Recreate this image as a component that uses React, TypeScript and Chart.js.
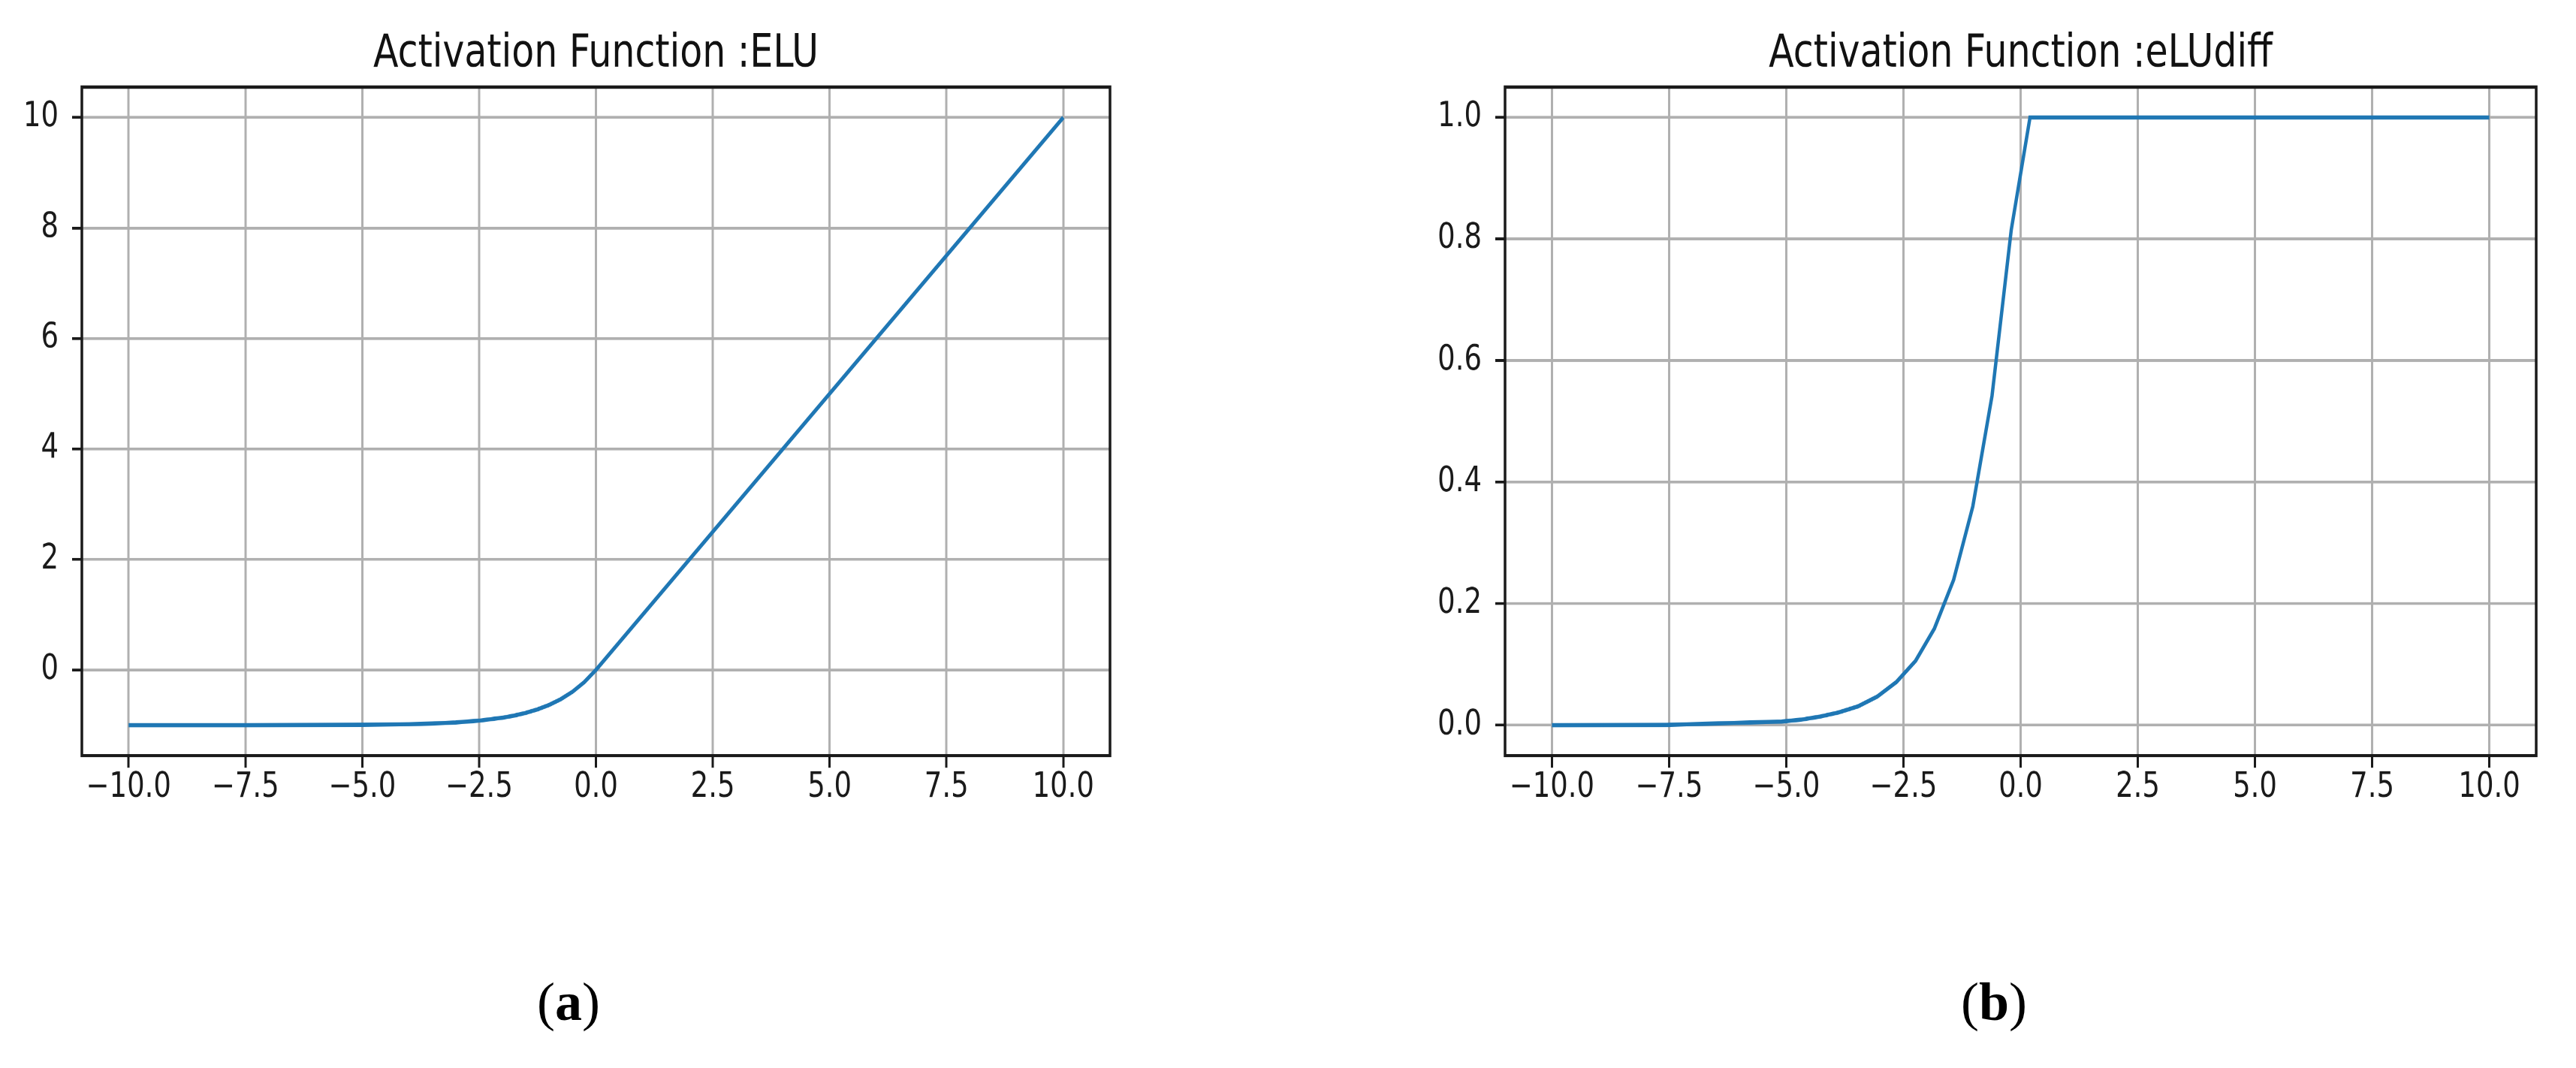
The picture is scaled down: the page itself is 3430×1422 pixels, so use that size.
import React, { useEffect, useRef } from 'react';
import Chart from 'chart.js/auto';

// ---------- data ----------
const X_TICKS = [-10, -7.5, -5, -2.5, 0, 2.5, 5, 7.5, 10];
const X_TICK_LABELS = ['−10.0', '−7.5', '−5.0', '−2.5', '0.0', '2.5', '5.0', '7.5', '10.0'];

const ELU_X = [-10, -7.5, -5, -4, -3.5, -3, -2.5, -2, -1.75, -1.5, -1.25, -1, -0.75, -0.5, -0.25, 0, 10];
const ELU_Y = [-1.0, -0.999, -0.993, -0.982, -0.97, -0.95, -0.918, -0.865, -0.826, -0.777, -0.713, -0.632, -0.528, -0.394, -0.221, 0, 10];
const ELU_Y_TICKS = [0, 2, 4, 6, 8, 10];
const ELU_Y_TICK_LABELS = ['0', '2', '4', '6', '8', '10'];

const DIFF_X = [-10, -7.55, -5.1, -4.69, -4.29, -3.88, -3.47, -3.06, -2.65, -2.24, -1.84, -1.43, -1.02, -0.61, -0.2, 0.2, 10];
const DIFF_Y = [0.0, 0.0005, 0.006, 0.009, 0.014, 0.021, 0.031, 0.047, 0.071, 0.106, 0.159, 0.239, 0.36, 0.542, 0.815, 1.0, 1.0];
const DIFF_Y_TICKS = [0, 0.2, 0.4, 0.6, 0.8, 1.0];
const DIFF_Y_TICK_LABELS = ['0.0', '0.2', '0.4', '0.6', '0.8', '1.0'];

const TITLES = ['Activation Function :ELU', 'Activation Function :eLUdiff'];
const CAPTIONS = ['a', 'b'];

// ---------- styling ----------
const FONT = "'DejaVu Sans', sans-serif";
const CANVAS_W = 1715;
const LOGICAL_H = 1000;
const PAGE_H = 1240;
const TITLE_SIZE = 49;

const framePlugin = {
  id: 'frame',
  afterDraw(chart: any) {
    const { ctx, chartArea: a } = chart;
    ctx.save();
    ctx.strokeStyle = '#1a1a1a';
    ctx.lineWidth = 3.5;
    ctx.strokeRect(a.left, a.top, a.right - a.left, a.bottom - a.top);
    ctx.restore();
  },
};

function makeConfig(
  xs: number[], ys: number[], yMin: number, yMax: number,
  yTicks: number[], yTickLabels: string[], title: string,
  yAxisWidth: number, padRight: number
): any {
  const tickFont = { family: FONT, size: 37, lineHeight: 1 };
  const grid = { color: '#b0b0b0', lineWidth: 3, drawTicks: true, tickLength: 13, tickColor: '#1a1a1a', tickWidth: 3 };
  const lh = TITLE_SIZE * 1.2;
  const padTop = 59 - lh / 2;
  const padBottom = 93.5 - padTop - lh;
  return {
    type: 'scatter',
    data: {
      datasets: [{
        data: xs.map((x, i) => ({ x, y: ys[i] })),
        showLine: true,
        borderColor: '#1f77b4',
        borderWidth: 4.5,
        pointRadius: 0,
        pointHoverRadius: 0,
        fill: false,
        tension: 0,
      }],
    },
    options: {
      animation: false,
      responsive: false,
      devicePixelRatio: 2,
      events: [],
      layout: { padding: { left: 0, right: padRight, top: 0, bottom: 0 } },
      plugins: {
        legend: { display: false },
        tooltip: { enabled: false },
        title: {
          display: true,
          text: title,
          fullSize: false,
          color: '#111',
          font: { family: FONT, size: TITLE_SIZE, weight: 'normal', lineHeight: 1.2 },
          padding: { top: padTop, bottom: padBottom },
        },
      },
      scales: {
        x: {
          type: 'linear',
          min: -11,
          max: 11,
          afterBuildTicks: (s: any) => { s.ticks = X_TICKS.map((v) => ({ value: v })); },
          afterFit: (s: any) => { s.height = LOGICAL_H - 811.3; },
          ticks: {
            callback: (_v: any, i: number) => X_TICK_LABELS[i],
            font: tickFont, color: '#1a1a1a', padding: 3, maxRotation: 0, minRotation: 0, autoSkip: false,
          },
          grid,
          border: { display: false },
        },
        y: {
          type: 'linear',
          min: yMin,
          max: yMax,
          afterBuildTicks: (s: any) => { s.ticks = yTicks.map((v) => ({ value: v })); },
          afterFit: (s: any) => { s.width = yAxisWidth; },
          ticks: {
            callback: (_v: any, i: number) => yTickLabels[i],
            font: tickFont, color: '#1a1a1a', padding: 18, autoSkip: false,
          },
          grid,
          border: { display: false },
        },
      },
    },
    plugins: [framePlugin],
  };
}

function Panel({ config, left }: { config: any; left: number }) {
  const ref = useRef<HTMLCanvasElement | null>(null);
  useEffect(() => {
    if (!ref.current) return;
    const c = new Chart(ref.current, config);
    return () => c.destroy();
  }, []);
  return (
    <canvas
      ref={ref}
      width={CANVAS_W}
      height={LOGICAL_H}
      style={{ position: 'absolute', left, top: 0, width: `${CANVAS_W}px`, height: `${PAGE_H}px` }}
    />
  );
}

const captionStyle = (centerX: number): React.CSSProperties => ({
  position: 'absolute',
  left: centerX - 150,
  width: 300,
  top: 1298,
  textAlign: 'center',
  fontFamily: "'Liberation Serif', 'Times New Roman', serif",
  fontSize: 72,
  lineHeight: 1,
  color: '#000',
});

export default function App() {
  const leftCfg = makeConfig(ELU_X, ELU_Y, -1.55, 10.55, ELU_Y_TICKS, ELU_Y_TICK_LABELS, TITLES[0], 109, CANVAS_W - 1478);
  const rightCfg = makeConfig(DIFF_X, DIFF_Y, -0.05, 1.05, DIFF_Y_TICKS, DIFF_Y_TICK_LABELS, TITLES[1], 2004 - CANVAS_W, CANVAS_W - (3377 - CANVAS_W));
  return (
    <div style={{ position: 'absolute', left: 0, top: 0, width: 3430, height: 1422, background: '#fff', overflow: 'hidden' }}>
      <Panel config={leftCfg} left={0} />
      <Panel config={rightCfg} left={CANVAS_W} />
      <div style={captionStyle(757)}>(<b>{CAPTIONS[0]}</b>)</div>
      <div style={captionStyle(2655)}>(<b>{CAPTIONS[1]}</b>)</div>
    </div>
  );
}
